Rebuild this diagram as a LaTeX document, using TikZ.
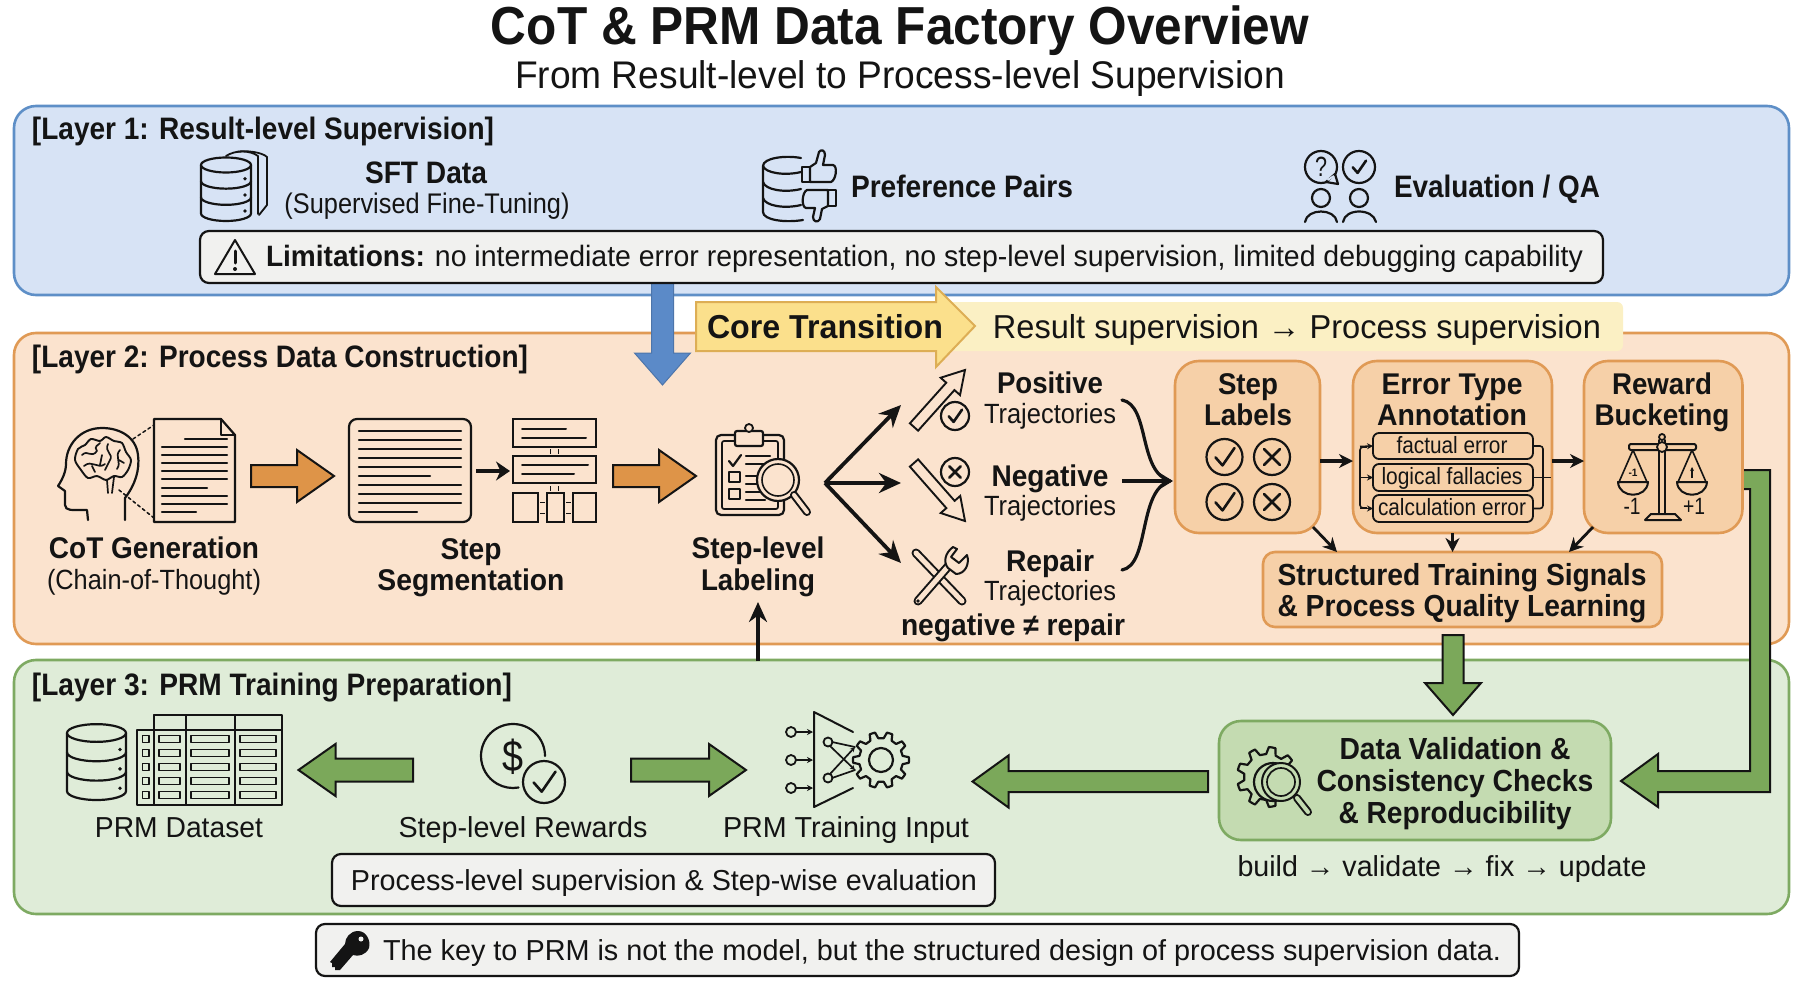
\documentclass[tikz,border=0pt]{standalone}
\usepackage{fontspec}
\setmainfont{Liberation Sans}
\usepackage{graphicx}
\usetikzlibrary{calc,arrows.meta}
\definecolor{blueF}{HTML}{D7E3F5}\definecolor{blueB}{HTML}{5E8FC7}\definecolor{blueA}{HTML}{5B8AC8}
\definecolor{orF}{HTML}{FBE3CE}\definecolor{orB}{HTML}{E09A55}\definecolor{orBox}{HTML}{F6D0A8}\definecolor{orA}{HTML}{DE9448}
\definecolor{grF}{HTML}{DFECD8}\definecolor{grB}{HTML}{7EAA62}\definecolor{grBox}{HTML}{C4DBB1}\definecolor{grA}{HTML}{7BA85A}
\definecolor{noteF}{HTML}{F1F1EF}\definecolor{coreF}{HTML}{FBE08C}\definecolor{coreB}{HTML}{DDAE55}\definecolor{coreP}{HTML}{FBF0C4}
\definecolor{ink}{HTML}{141414}
\newcommand{\tx}[6]{\pgfmathsetmacro{\fsz}{#5*1.07}\node[inner sep=0pt,outer sep=0pt,anchor=base,text=ink] (#1) at (#2,#3+0.36*#5) {\resizebox{#4pt}{\height}{\fontsize{\fsz pt}{\fsz pt}\selectfont #6}};}
\newcommand{\bx}[6]{\pgfmathsetmacro{\fsz}{#5*1.07}\node[inner sep=0pt,outer sep=0pt,anchor=base,text=ink] (#1) at (#2,#3+0.36*#5) {\resizebox{#4pt}{\height}{\fontsize{\fsz pt}{\fsz pt}\selectfont\bfseries #6}};}
\newcommand{\boxat}[6]{\node[inner sep=0pt,outer sep=0pt,rectangle,#6,minimum width={(#4)-(#2)},minimum height={(#5)-(#3)}] (#1) at ({((#2)+(#4))/2},{((#3)+(#5))/2}) {};}
% block arrow: style, from, to, half shaft, head length, half head
\newcommand{\fatarrow}[6]{\coordinate (fah) at ($(#3)!#5pt!(#2)$);
 \draw[#1] ($(#2)!#4pt!90:(#3)$) -- ($(fah)!#4pt!-90:(#2)$) -- ($(fah)!#6pt!-90:(#2)$) -- (#3) -- ($(fah)!#6pt!90:(#2)$) -- ($(fah)!#4pt!90:(#2)$) -- ($(#2)!#4pt!-90:(#3)$) -- cycle;}
\newcommand{\cylicon}[4]{% cx top bottom rx
 \pgfmathsetmacro{\cyr}{(#4)*0.3}\pgfmathsetmacro{\cyh}{((#3)-(#2)-\cyr)/3}
 \draw[icon] (#1,#2) ellipse[x radius=#4,y radius=\cyr];
 \draw[icon] (#1-#4,#2) -- (#1-#4,#3-\cyr) arc[start angle=180,end angle=0,x radius=#4,y radius=\cyr] -- (#1+#4,#2);
 \foreach \cyi in {1,2}{\draw[icon] (#1-#4,#2+\cyi*\cyh) arc[start angle=180,end angle=0,x radius=#4,y radius=\cyr];}
 \foreach \cyi in {1,2,3}{\fill[ink] (#1+#4-6,#2+\cyi*\cyh-\cyh*0.15) circle[radius=1.9];}}
\newcommand{\gearicon}[5]{% cx cy Rout Rin teeth
 \begin{scope}[shift={(#1,#2)}]
 \pgfmathsetmacro{\gstep}{360/#5}
 \draw[icon,line join=round,fill=none] (0:#3)
  \foreach \gi in {1,...,#5}{ \pgfextra{\pgfmathsetmacro{\ga}{(\gi-1)*\gstep}} 
   -- ({\ga+\gstep*0.16}:#3) -- ({\ga+\gstep*0.30}:#4) -- ({\ga+\gstep*0.70}:#4) -- ({\ga+\gstep*0.84}:#3) -- ({\ga+\gstep}:#3) } -- cycle;
 \end{scope}}
\newcommand{\chk}[3]{\draw[icon,line width=2.6pt] (#1-#3*0.45,#2+#3*0.02) -- (#1-#3*0.1,#2+#3*0.42) -- (#1+#3*0.5,#2-#3*0.45);}
\newcommand{\crs}[3]{\draw[icon,line width=2.6pt] (#1-#3*0.4,#2-#3*0.4) -- (#1+#3*0.4,#2+#3*0.4) (#1+#3*0.4,#2-#3*0.4) -- (#1-#3*0.4,#2+#3*0.4);}
\tikzset{
 icon/.style={draw=ink,line width=2.2pt,line cap=round,line join=round},
 layerblue/.style={draw=blueB,fill=blueF,line width=2.6pt,rounded corners=22pt},
 layeror/.style={draw=orB,fill=orF,line width=2.6pt,rounded corners=22pt},
 layergr/.style={draw=grB,fill=grF,line width=2.6pt,rounded corners=22pt},
 notebox/.style={draw=ink,fill=noteF,line width=2.2pt,rounded corners=9pt},
 orbox/.style={draw=orB,fill=orBox,line width=2.6pt,rounded corners=24pt},
 inbox/.style={draw=ink,fill=orBox,line width=1.8pt,rounded corners=6pt},
 grbox/.style={draw=grB,fill=grBox,line width=2.6pt,rounded corners=22pt},
 bigarr/.style={draw=ink,line width=2pt,line join=miter},
 thinarr/.style={draw=ink,line width=2.8pt,-{Stealth[length=14pt,width=14pt]}},
 forkarr/.style={draw=ink,line width=3.8pt,-{Stealth[length=22pt,width=20pt]}},
 smallarr/.style={draw=ink,line width=1.6pt,-{Stealth[length=6pt,width=6pt]}},
 brace/.style={draw=ink,line width=3.2pt,line cap=round},
}
\begin{document}
\begin{tikzpicture}[x=1pt,y=-1pt]
\useasboundingbox (0,0) rectangle (1800,982);
\fill[white] (0,0) rectangle (1800,982);
% titles
\bx{title}{900}{27}{818}{50}{CoT \& PRM Data Factory Overview}
\tx{subtitle}{900}{75.5}{770}{36}{From Result-level to Process-level Supervision}
% layers
\boxat{L1}{14}{106}{1789}{295}{layerblue}
\boxat{L2}{14}{333}{1789}{644}{layeror}
\boxat{L3}{14}{660}{1789}{914}{layergr}
\bx{L1t}{263}{129.5}{462}{29}{[Layer 1: Result-level Supervision]}
\bx{L2t}{280}{357.5}{496}{29}{[Layer 2: Process Data Construction]}
\bx{L3t}{272}{685.5}{480}{29}{[Layer 3: PRM Training Preparation]}
% ---- layer 1 content
\draw[icon,line width=1.8pt] (226,156) .. controls (235,150) and (250,150) .. (258,156) -- (258,214);
\draw[icon,line width=1.8pt] (236,152) .. controls (245,150) and (262,152) .. (267,157) -- (267,205) -- (259,215);
\cylicon{226}{165}{221}{25}
\bx{sft}{426}{173}{122}{29}{SFT Data}
\tx{sftsub}{427}{204}{285}{26.5}{(Supervised Fine-Tuning)}
% preference icon
\draw[icon] (801,158) .. controls (785,155) and (763,158) .. (763,166) -- (763,212) .. controls (763,220) and (785,223) .. (803,220);
\draw[icon] (763,166) .. controls (765,173) and (785,176) .. (801,172);
\draw[icon] (763,182) .. controls (765,190) and (785,193) .. (801,189);
\draw[icon] (763,198) .. controls (765,206) and (785,209) .. (801,205);
\draw[icon,fill=blueF] (802,167) rectangle (810,182);
\draw[icon,fill=blueF] (810,167) -- (816,163) -- (819,152) .. controls (821,149) and (825,150) .. (825,155) -- (823,165) -- (833,165) .. controls (838,166) and (836,180) .. (831,182) -- (810,182) -- cycle;
\draw[icon,fill=blueF] (828,190) rectangle (836,206);
\draw[icon,fill=blueF] (828,206) -- (822,209) -- (820,219) .. controls (818,223) and (813,222) .. (813,217) -- (815,208) -- (806,208) .. controls (801,207) and (802,192) .. (807,190) -- (828,190) -- cycle;
\bx{pref}{962}{187}{222}{29}{Preference Pairs}
% evaluation icon
\draw[icon] (1321,167) ellipse[x radius=16,y radius=16];
\draw[icon,fill=blueF] (1326,182) -- (1338,184) -- (1335,174) -- cycle;
\draw[blueF,line width=2pt] (1327.5,180) -- (1334,176);
\tx{qm}{1321}{167}{12}{26}{?}
\draw[icon] (1359,167) circle[radius=16];
\chk{1359}{167}{14}
\draw[icon] (1321,198) circle[radius=9];
\draw[icon] (1359,198) circle[radius=9];
\draw[icon] (1305,222) .. controls (1307,208) and (1335,208) .. (1337,222);
\draw[icon] (1343,222) .. controls (1345,208) and (1373,208) .. (1376,222);
\bx{evalq}{1497}{187}{206}{29}{Evaluation / QA}
% blue arrow (behind limitations box)
\coordinate (bA) at (662.5,283);
\coordinate (bB) at (662.5,385);
\fatarrow{draw=blueA!85!black,line width=1pt,fill=blueA}{bA}{bB}{11}{32}{28}
% limitations box
\boxat{lim}{200}{231}{1603}{283}{notebox}
\draw[icon,line width=2pt] (235,240) -- (215,274) -- (255,274) -- cycle;
\draw[icon,line width=3pt] (235,251) -- (235,263);
\fill[ink] (235,269) circle[radius=2];
\bx{limb}{345.5}{257}{159}{27.5}{Limitations:}
\tx{limt}{1009}{257}{1148}{27.5}{no intermediate error representation, no step-level supervision, limited debugging capability}
% core transition
\boxat{coreP}{900}{302}{1623}{351}{draw=none,fill=coreP,rounded corners=6pt}
\draw[draw=coreB,line width=2pt,fill=coreF,line join=miter] (696,302) -- (936,302) -- (936,287) -- (975,326) -- (936,367) -- (936,351) -- (696,351) -- cycle;
\bx{core}{825}{327}{236}{31}{Core Transition}
\tx{coret}{1297}{327}{608}{31}{Result supervision → Process supervision}
% ---- layer 2: CoT generation
\draw[icon] (125,520) -- (125,498) .. controls (135,485) and (140,470) .. (138,455) .. controls (136,437) and (120,428) .. (102,428) .. controls (80,428) and (66,445) .. (66,464) .. controls (66,472) and (62,480) .. (58,486) -- (65,491) -- (65,505) .. controls (66,511) and (70,510) .. (87,510) -- (88,520);
\draw[icon,line width=1.9pt] plot[smooth cycle] coordinates {(75,460)(78,449)(85,445)(91,439)(100,441)(106,437)(114,441)(122,443)(126,452)(131,460)(128,470)(122,477)(114,476)(106,480)(97,476)(88,478)(81,470)};
\draw[icon,line width=1.7pt] (82,455) .. controls (88,449) and (91,459) .. (97,451) (97,451) .. controls (93,446) and (99,445) .. (100,443) (108,444) .. controls (104,452) and (114,454) .. (110,460) (120,450) .. controls (114,456) and (122,462) .. (117,469) (84,466) .. controls (92,459) and (98,470) .. (105,464) (102,455) -- (100,465) (110,460) -- (105,470) (95,472) -- (92,466) (107,480) -- (108,493) (114,477) -- (112,493) (119,460) -- (124,463);
\draw[icon,line width=1.5pt,dashed] (133,439) -- (154,425) (119,490) -- (154,518);
\draw[icon,fill=orF] (154,419) -- (221,419) -- (235,435) -- (235,522) -- (154,522) -- cycle;
\draw[icon,line width=1.6pt] (221,419) -- (221,435) -- (235,435);
\foreach \ya/\xa/\xb in {439/185/227,447/162/227,455/162/227,463/162/227,471/162/227,479/162/227,488/162/207,496/162/227,504/162/227,512/162/196}{\draw[icon,line width=2.3pt] (\xa,\ya) -- (\xb,\ya);}
\coordinate (oA1) at (251,476);\coordinate (oB1) at (334,476);
\fatarrow{bigarr,fill=orA}{oA1}{oB1}{11}{37}{26}
\bx{cot}{154}{548}{210}{28}{CoT Generation}
\tx{cots}{154}{580}{214}{26}{(Chain-of-Thought)}
% segmentation
\boxat{doc2}{349}{419}{471}{522}{draw=ink,fill=orF,line width=2.2pt,rounded corners=8pt}
\foreach \ya/\xb in {431/461,440/461,449/461,458/461,467/461,476/430,485/461,494/461,503/461,512/417}{\draw[icon,line width=2.4pt] (359,\ya) -- (\xb,\ya);}
\boxat{s1}{513}{419}{596}{447}{draw=ink,line width=2pt}
\boxat{s2}{513}{456}{596}{483}{draw=ink,line width=2pt}
\boxat{s3}{513}{493}{538}{522}{draw=ink,line width=2pt}
\boxat{s4}{547}{493}{564}{522}{draw=ink,line width=2pt}
\boxat{s5}{573}{493}{596}{522}{draw=ink,line width=2pt}
\draw[icon,line width=2pt] (522,429) -- (566,429) (522,438) -- (586,438) (522,465) -- (588,465) (522,474) -- (574,474);
\coordinate (segA) at (476,471);\coordinate (segB) at (510,471);
\draw[draw=ink,line width=4pt,-{Stealth[length=14pt,width=19pt]}] (segA) -- (segB);
\draw[ink,line width=.8pt] (550,449) -- (550,454) (558,449) -- (558,454) (550,486) -- (550,491) (558,486) -- (558,491) (540,502) -- (545,502) (540,513) -- (545,513) (566,502) -- (571,502) (566,513) -- (571,513);
\coordinate (oA2) at (613,476);\coordinate (oB2) at (696,476);
\fatarrow{bigarr,fill=orA}{oA2}{oB2}{11}{37}{26}
\bx{seg1}{471}{549}{61}{28}{Step}
\bx{seg2}{471}{580}{187}{28}{Segmentation}
% clipboard
\boxat{clip}{716}{435}{784}{515}{draw=ink,line width=2.2pt,rounded corners=5pt}
\draw[icon,line width=1.7pt,rounded corners=2pt] (722,441) rectangle (778,509);
\draw[icon,fill=orF,rounded corners=2pt] (735,431) rectangle (763,446);
\draw[icon,fill=orF,line width=1.8pt] (749,428) circle[radius=4];
\draw[icon,line width=2.2pt] (729,461) -- (733,466) -- (741,455);
\draw[icon,fill=orF,line width=1.8pt] (729,472) rectangle (740,482);
\draw[icon,fill=orF,line width=1.8pt] (729,489) rectangle (740,499);
\draw[icon,line width=2.2pt] (746,456) -- (770,456) (746,464) -- (765,464) (746,476) -- (758,476) (746,484) -- (758,484) (746,492) -- (762,492) (746,500) -- (765,500);
\draw[icon,fill=orF] (778,480) circle[radius=21];
\draw[icon,fill=orF,line width=1.6pt] (778,480) circle[radius=16];
\draw[draw=ink,line width=8pt,line cap=round] (794,495) -- (807,512);
\draw[draw=orF,line width=4pt,line cap=round] (794,495) -- (807,512);
\bx{lab1}{758}{548}{133}{28}{Step-level}
\bx{lab2}{758}{580}{114}{28}{Labeling}
\coordinate (upS) at (758,661);\coordinate (upE) at (758,602);
\draw[draw=ink,line width=3.6pt,-{Stealth[length=20pt,width=18pt]}] (upS) -- (upE);
% fork
\coordinate (fork) at (825,483);
\coordinate (fp) at (901,405);\coordinate (fn) at (901,483);\coordinate (fr) at (901,563);
\draw[forkarr] (fork) -- (fp);
\draw[forkarr] (fork) -- (fn);
\draw[forkarr] (fork) -- (fr);
% trajectory icons
\coordinate (pA) at (914,427);\coordinate (pB) at (965,370);
\fatarrow{draw=ink,line width=1.9pt,fill=orF}{pA}{pB}{5.5}{22}{13}
\draw[icon,fill=orF] (955,416) circle[radius=14];
\chk{955}{416}{14}
\coordinate (nA) at (914,463);\coordinate (nB) at (965,521);
\fatarrow{draw=ink,line width=1.9pt,fill=orF}{nA}{nB}{5.5}{22}{13}
\draw[icon,fill=orF] (955,472) circle[radius=14];
\crs{955}{472}{14}
\draw[draw=ink,line width=9pt,line cap=round] (916,553) -- (962,601);
\draw[draw=orF,line width=5pt,line cap=round] (916,553) -- (962,601);
\draw[draw=ink,line width=9pt,line cap=round] (918,601) -- (952,562);
\draw[draw=orF,line width=5pt,line cap=round] (918,601) -- (952,562);
\draw[icon,fill=orF,line width=2pt] (953,547) .. controls (945,553) and (943,562) .. (948,568) -- (956,574) .. controls (965,574) and (970,564) .. (967,555) -- (959,563) -- (951,557) -- (957,549) -- cycle;
\fill[ink] (918,601) circle[radius=1.8];
\bx{pos}{1050}{383}{106}{28}{Positive}
\tx{post}{1050}{414}{132}{26}{Trajectories}
\bx{neg}{1050}{476}{117}{28}{Negative}
\tx{negt}{1050}{506}{132}{26}{Trajectories}
\bx{rep}{1050}{561}{88}{28}{Repair}
\tx{rept}{1050}{591}{132}{26}{Trajectories}
\bx{ner}{1013}{625}{224}{28}{negative ≠ repair}
% boxes
\boxat{sl}{1175}{361}{1320}{533}{orbox}
\boxat{et}{1353}{361}{1552}{533}{orbox}
\boxat{rb}{1584}{361}{1742.5}{533}{orbox}
\boxat{st}{1263}{552}{1662}{627}{orbox,rounded corners=12pt}
% braces
\coordinate (bjoin) at (1173,481);\coordinate (bstart) at (1122,481);
\draw[brace] (1122,400) .. controls (1150,405) and (1138,472) .. (1170,481);
\draw[brace] (1122,570) .. controls (1150,565) and (1138,490) .. (1170,481);
\draw[draw=ink,line width=3.6pt,-{Stealth[length=14pt,width=17pt]}] (bstart) -- (bjoin);
% step labels
\bx{sl1}{1248}{384}{60}{28}{Step}
\bx{sl2}{1248}{415}{88}{28}{Labels}
\draw[icon] (1224.5,457) circle[radius=18]; \chk{1224.5}{457}{20}
\draw[icon] (1272,457) circle[radius=18]; \crs{1272}{457}{20}
\draw[icon] (1224.5,502) circle[radius=18]; \chk{1224.5}{502}{20}
\draw[icon] (1272,502) circle[radius=18]; \crs{1272}{502}{20}
% error type
\bx{et1}{1452}{384}{141}{28}{Error Type}
\bx{et2}{1452}{415}{150}{28}{Annotation}
\boxat{e1}{1373}{433}{1533}{459}{inbox}
\boxat{e2}{1373}{464}{1533}{491}{inbox}
\boxat{e3}{1373}{495}{1533}{522}{inbox}
\tx{e1t}{1452}{446}{111}{22}{factual error}
\tx{e2t}{1452}{477}{141}{22}{logical fallacies}
\tx{e3t}{1452}{508}{148}{22}{calculation error}
\draw[draw=ink,line width=1.6pt,rounded corners=3pt] (1367,447) -- (1360,447) -- (1360,508) -- (1367,508);
\draw[smallarr] (1360,446.5) -- (e1.west);
\draw[smallarr] (1360,477.5) -- (e2.west);
\draw[smallarr] (1360,508.5) -- (e3.west);
\draw[draw=ink,line width=1.6pt,rounded corners=3pt] (e1.east) -- (1543,446) -- (1543,508.5) -- (e3.east);
\draw[draw=ink,line width=1.6pt] (e2.east) -- (1551,477.5);
% reward
\bx{rb1}{1662}{384}{100}{28}{Reward}
\bx{rb2}{1662}{415}{135}{28}{Bucketing}
\draw[icon,line width=1.8pt] (1659,440) -- (1659,515) (1665,440) -- (1665,515);
\draw[icon,fill=orBox,line width=2pt,rounded corners=2pt] (1629,444) rectangle (1696,450);
\draw[icon,fill=orBox,line width=1.8pt] (1662,437) circle[radius=3];
\draw[icon,fill=orBox,line width=1.8pt] (1662,447) circle[radius=5];
\draw[icon,line width=1.6pt] (1633,450) -- (1619,482) (1633,450) -- (1647,482) (1692,450) -- (1678,482) (1692,450) -- (1706,482);
\draw[icon,line width=2pt] (1618,482) -- (1648,482) .. controls (1647,499) and (1619,499) .. (1618,482) -- cycle;
\draw[icon,line width=2pt] (1677,482) -- (1707,482) .. controls (1706,499) and (1678,499) .. (1677,482) -- cycle;
\bx{pm1}{1633}{473}{9}{10}{-1}
\draw[ink,line width=1.2pt,-{Stealth[length=4pt,width=4pt]}] (1692,478) -- (1692,467);
\draw[icon,fill=orBox,line width=2pt] (1645,520) -- (1681,520) -- (1675,514) -- (1651,514) -- cycle;
\tx{mn}{1632}{507}{17}{22}{-1}
\tx{pl}{1694}{507}{22}{22}{+1}
% connectors among boxes
\coordinate (rowy) at (0,461);
\draw[thinarr,line width=3.4pt] (sl.east |- rowy) -- (et.west |- rowy);
\draw[thinarr,line width=3.4pt] (et.east |- rowy) -- (rb.west |- rowy);
\coordinate (slc) at (1313,527);\coordinate (stc1) at (1337,552);
\coordinate (rbc) at (1593,527);\coordinate (stc3) at (1569,552);
\draw[thinarr] (slc) -- (stc1);
\draw[thinarr] (et.south) -- (et.south |- st.north);
\draw[thinarr] (rbc) -- (stc3);
\bx{st1}{1462}{575}{369}{28.5}{Structured Training Signals}
\bx{st2}{1462}{606}{369}{28.5}{\& Process Quality Learning}
% green arrows
\coordinate (gA) at (1453,635);\coordinate (gB) at (1453,715);
\fatarrow{bigarr,fill=grA}{gA}{gB}{10.5}{32}{28}
\draw[bigarr,fill=grA] (rb.east |- 0,470) -- (1770,470) -- (1770,792) -- (1658,792) -- (1658,807) -- (1621,781) -- (1658,754) -- (1658,771) -- (1750,771) -- (1750,489) -- (rb.east |- 0,489);
\draw[draw=orB,line width=2.6pt] (rb.east |- 0,468) -- (rb.east |- 0,491);
% layer 3
\cylicon{96.5}{733}{800}{29.5}
\draw[icon,line width=1.9pt] (154,730) -- (154,715) -- (282,715) -- (282,805) -- (137,805) -- (137,730) -- (282,730);
\draw[icon,line width=1.9pt] (154,715) -- (154,805) (186,715) -- (186,805) (235,715) -- (235,805);
\foreach \ya in {739,753,767,781,795}{
 \draw[icon,line width=1.7pt] (142.5,\ya-3.5) rectangle (149,\ya+3.5);
 \draw[icon,line width=1.7pt] (159,\ya-3.5) rectangle (180,\ya+3.5);
 \draw[icon,line width=1.7pt] (191,\ya-3.5) rectangle (229,\ya+3.5);
 \draw[icon,line width=1.7pt] (240,\ya-3.5) rectangle (276,\ya+3.5);}
\tx{prmd}{179}{828}{168}{27}{PRM Dataset}
\coordinate (rA1) at (413,770);\coordinate (rB1) at (298.5,770);
\fatarrow{bigarr,fill=grA}{rA1}{rB1}{11.5}{37}{26}
\draw[icon] (545,756) arc[start angle=0,end angle=-280,radius=32];
\tx{dollar}{513}{757}{21}{41}{\$}
\draw[icon] (544,782) circle[radius=21];
\chk{544}{782}{23}
\coordinate (rA2) at (631,770);\coordinate (rB2) at (746,770);
\fatarrow{bigarr,fill=grA}{rA2}{rB2}{11.5}{37}{26}
\tx{slr}{523}{828}{249}{27}{Step-level Rewards}
% training icon
\draw[icon,line width=2pt] (853,732) -- (814,712) -- (814,807) -- (853,788);
\foreach \ya in {732,760,788}{\draw[icon,line width=1.8pt] (791,\ya) circle[radius=5];
 \draw[draw=ink,line width=1.6pt,-{Stealth[length=6pt,width=6pt]}] (796,\ya) -- (813,\ya);}
\draw[icon,line width=1.8pt] (828,742) circle[radius=4.5] (828,778) circle[radius=4.5];
\draw[draw=ink,line width=1.7pt,-{Stealth[length=5pt,width=5pt]}] (830,746) -- (855,770);
\draw[draw=ink,line width=1.7pt,-{Stealth[length=5pt,width=5pt]}] (830,774) -- (855,747);
\draw[icon,line width=1.7pt] (832,742) -- (855,747) (832,778) -- (855,770);
\gearicon{881}{760}{28}{22}{10}
\draw[icon] (881,760) circle[radius=12];
\tx{pti}{846}{828}{246}{27}{PRM Training Input}
\coordinate (vA) at (1208,781.5);\coordinate (vB) at (972.5,781.5);
\fatarrow{bigarr,fill=grA}{vA}{vB}{10.5}{36}{26}
% validation
\boxat{dv}{1219}{721}{1611}{840}{grbox}
\gearicon{1267}{777}{30}{23}{9}
\draw[icon,fill=grBox] (1273,782) circle[radius=19];
\draw[icon,fill=grBox,line width=2pt] (1281,782) circle[radius=19];
\draw[icon,fill=grBox,line width=1.7pt] (1281,782) circle[radius=14];
\draw[draw=ink,line width=8pt,line cap=round] (1297,798) -- (1308,812);
\draw[draw=grBox,line width=4pt,line cap=round] (1297,798) -- (1308,812);
\bx{dv1}{1455}{749}{231}{28.5}{Data Validation \&}
\bx{dv2}{1455}{781}{277}{28.5}{Consistency Checks}
\bx{dv3}{1455}{813}{233}{28.5}{\& Reproducibility}
\tx{build}{1442}{867}{409}{27}{build → validate → fix → update}
% process box
\boxat{proc}{332}{854}{995}{906}{notebox}
\tx{proct}{664}{881}{626}{27}{Process-level supervision \& Step-wise evaluation}
% key note
\boxat{note}{316}{924}{1519}{976}{notebox}
\fill[ink] (358,931) .. controls (366,931) and (371,940) .. (369,948) .. controls (366,955) and (358,957) .. (353,955) -- (340,970) -- (335,970) -- (335,967) -- (332,967) -- (332,963) -- (330,962) -- (345,944) .. controls (345,938) and (350,931) .. (358,931) -- cycle;
\fill[noteF] (361,939) circle[radius=2.5];
\tx{notet}{942}{951}{1118}{27}{The key to PRM is not the model, but the structured design of process supervision data.}
\end{tikzpicture}
\end{document}
